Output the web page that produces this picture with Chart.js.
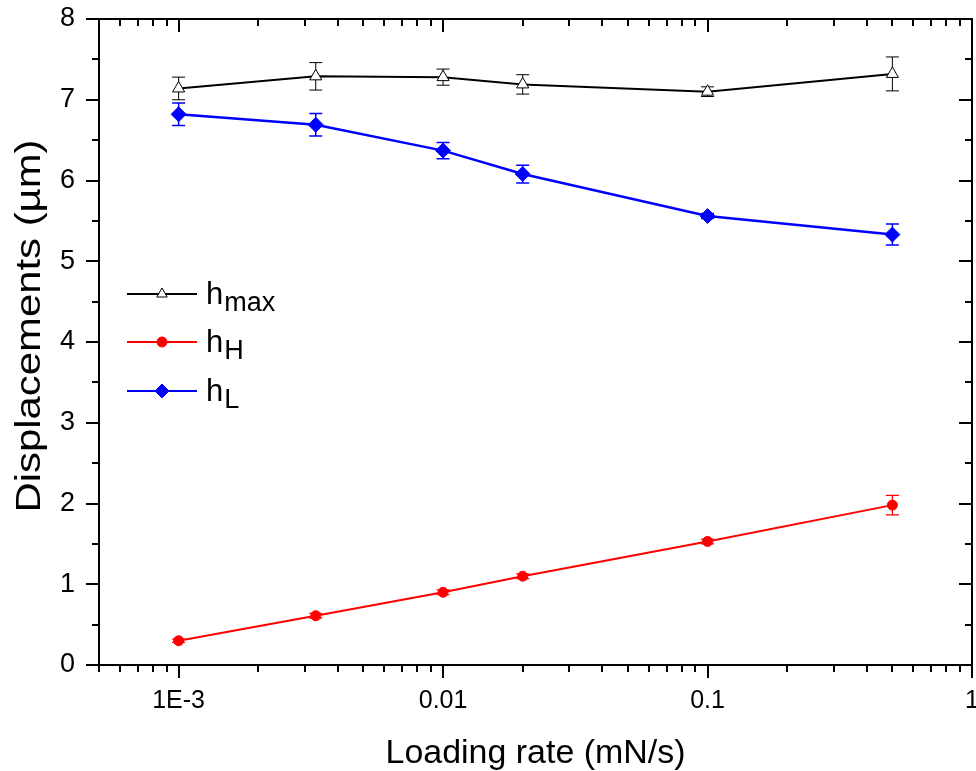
<!DOCTYPE html>
<html>
<head>
<meta charset="utf-8">
<script src="https://cdn.jsdelivr.net/npm/chart.js@4/dist/chart.umd.min.js"></script>
<style>
  html, body { margin: 0; padding: 0; background: #fff; }
  #wrap { width: 976px; height: 771px; }
</style>
</head>
<body>
<div id="wrap"><canvas id="myChart" width="976" height="771"></canvas></div>
<script>
// loading rates (mN/s)
var rates = [0.001, 0.0033, 0.01, 0.02, 0.1, 0.5];
// h_max
var hMax = [7.14, 7.29, 7.28, 7.19, 7.10, 7.32];
var hMaxErr = [0.14, 0.17, 0.10, 0.12, 0.06, 0.21];
// h_H
var hH = [0.30, 0.61, 0.90, 1.10, 1.53, 1.98];
var hHErr = [0.02, 0.03, 0.03, 0.03, 0.03, 0.12];
// h_L
var hL = [6.82, 6.69, 6.37, 6.08, 5.56, 5.33];
var hLErr = [0.14, 0.14, 0.10, 0.11, 0.03, 0.13];

var xTicks = [0.001, 0.01, 0.1, 1];
var xTickLabels = ['1E-3', '0.01', '0.1', '1'];

function pts(ys, errs) {
  return rates.map(function (r, i) { return { x: r, y: ys[i], err: errs[i] }; });
}

var FONT = 'Arial, "Liberation Sans", sans-serif';

// error bars
var errorBars = {
  id: 'errorBars',
  beforeDatasetsDraw: function (chart) {
    var ctx = chart.ctx;
    var xs = chart.scales.x, ys = chart.scales.y;
    chart.data.datasets.forEach(function (ds) {
      ctx.save();
      ctx.strokeStyle = ds.borderColor;
      ctx.lineWidth = ds.errWidth || 1;
      ds.data.forEach(function (p) {
        var px = xs.getPixelForValue(p.x);
        var top = ys.getPixelForValue(p.y + p.err);
        var bot = ys.getPixelForValue(p.y - p.err);
        ctx.beginPath();
        ctx.moveTo(px, top); ctx.lineTo(px, bot);
        ctx.moveTo(px - 6.5, top); ctx.lineTo(px + 6.5, top);
        ctx.moveTo(px - 6.5, bot); ctx.lineTo(px + 6.5, bot);
        ctx.stroke();
      });
      ctx.restore();
    });
  }
};

// frame + origin-style ticks (outside on left/bottom, inside on top/right) + axis titles
var frame = {
  id: 'frame',
  afterDraw: function (chart) {
    var ctx = chart.ctx, a = chart.chartArea;
    var xs = chart.scales.x, ys = chart.scales.y;
    ctx.save();
    ctx.strokeStyle = '#000';
    ctx.lineWidth = 2;
    ctx.strokeRect(a.left, a.top, a.right - a.left, a.bottom - a.top);
    ctx.beginPath();
    for (var e = -4; e <= 0; e++) {
      for (var m = 1; m <= 9; m++) {
        var v = m * Math.pow(10, e);
        if (v < xs.min - 1e-12 || v > xs.max + 1e-12) continue;
        var px = Math.round(xs.getPixelForValue(v));
        var len = m === 1 ? 13 : 7;
        ctx.moveTo(px, a.bottom); ctx.lineTo(px, a.bottom + len);
        ctx.moveTo(px, a.top); ctx.lineTo(px, a.top + len);
      }
    }
    for (var k = 0; k <= 16; k++) {
      var yv = k / 2;
      var py = Math.round(ys.getPixelForValue(yv));
      var l = k % 2 === 0 ? 13 : 7;
      ctx.moveTo(a.left, py); ctx.lineTo(a.left - l, py);
      ctx.moveTo(a.right, py); ctx.lineTo(a.right - l, py);
    }
    ctx.stroke();

    // axis titles
    ctx.fillStyle = '#000';
    ctx.textAlign = 'center';
    ctx.textBaseline = 'alphabetic';
    ctx.font = '33px ' + FONT;
    var xt = 'Loading rate (mN/s)';
    var sx = 300 / ctx.measureText(xt).width;
    ctx.save();
    ctx.translate((a.left + a.right) / 2, 763);
    ctx.scale(sx, 1);
    ctx.fillText(xt, 0, 0);
    ctx.restore();

    ctx.font = '35px ' + FONT;
    var yt = 'Displacements (µm)';
    var sy = 373 / ctx.measureText(yt).width;
    ctx.save();
    ctx.translate(40, 326);
    ctx.rotate(-Math.PI / 2);
    ctx.scale(sy, 1);
    ctx.fillText(yt, 0, 0);
    ctx.restore();
    ctx.restore();
  }
};

// legend with subscripts
var legendItems = [
  { main: 'h', sub: 'max', color: '#000000', style: 'triangle', r: 6, fill: '#ffffff', y: 294 },
  { main: 'h', sub: 'H', color: '#ff0000', style: 'circle', r: 5, fill: '#ff0000', y: 342 },
  { main: 'h', sub: 'L', color: '#0000ff', style: 'rectRot', r: 7, fill: '#0000ff', y: 391 }
];
var subLegend = {
  id: 'subLegend',
  afterDraw: function (chart) {
    var ctx = chart.ctx;
    ctx.save();
    legendItems.forEach(function (it) {
      ctx.strokeStyle = it.color;
      ctx.lineWidth = 2;
      ctx.beginPath();
      ctx.moveTo(127, it.y); ctx.lineTo(197, it.y);
      ctx.stroke();
      ctx.fillStyle = it.fill;
      ctx.lineWidth = 1;
      Chart.helpers.drawPoint(ctx, { pointStyle: it.style, radius: it.r, borderWidth: 1, rotation: 0 }, 162, it.y);
      ctx.fillStyle = '#000';
      ctx.textBaseline = 'alphabetic';
      ctx.textAlign = 'left';
      ctx.font = '31px ' + FONT;
      ctx.fillText(it.main, 206, it.y + 10);
      var w = ctx.measureText(it.main).width;
      ctx.font = '27px ' + FONT;
      ctx.fillText(it.sub, 206 + w + 1, it.y + 17);
    });
    ctx.restore();
  }
};

function noOverhang(scale) {
  scale.paddingLeft = 0;
  scale.paddingRight = 0;
  scale.paddingTop = 0;
  scale.paddingBottom = 0;
}

var ctx = document.getElementById('myChart').getContext('2d');
var myChart = new Chart(ctx, {
  type: 'scatter',
  data: {
    datasets: [{
      label: 'hmax',
      data: pts(hMax, hMaxErr),
      showLine: true,
      borderColor: '#000000',
      backgroundColor: '#ffffff',
      borderWidth: 2,
      pointStyle: 'triangle',
      pointRadius: 7,
      pointBorderWidth: 1,
      errWidth: 1
    }, {
      label: 'hH',
      data: pts(hH, hHErr),
      showLine: true,
      borderColor: '#ff0000',
      backgroundColor: '#ff0000',
      pointBackgroundColor: '#ff0000',
      borderWidth: 2,
      pointStyle: 'circle',
      pointRadius: 5,
      pointBorderWidth: 1,
      errWidth: 1.2
    }, {
      label: 'hL',
      data: pts(hL, hLErr),
      showLine: true,
      borderColor: '#0000ff',
      backgroundColor: '#0000ff',
      pointBackgroundColor: '#0000ff',
      borderWidth: 2.5,
      pointStyle: 'rectRot',
      pointRadius: 7.5,
      pointBorderWidth: 1,
      errWidth: 1.5
    }]
  },
  options: {
    responsive: false,
    animation: false,
    layout: { autoPadding: false, padding: { left: 0, right: 4, top: 19, bottom: 0 } },
    plugins: { legend: { display: false }, tooltip: { enabled: false } },
    scales: {
      x: {
        type: 'logarithmic',
        min: 0.0005,
        max: 1,
        grid: { display: false, drawTicks: false },
        border: { display: false },
        afterBuildTicks: function (scale) {
          scale.ticks = xTicks.map(function (v) { return { value: v }; });
        },
        afterFit: function (scale) { scale.height = 106; noOverhang(scale); },
        ticks: {
          autoSkip: false,
          maxRotation: 0,
          padding: 21,
          color: '#000',
          font: { family: FONT, size: 25 },
          callback: function (v) {
            var i = xTicks.indexOf(v);
            return i >= 0 ? xTickLabels[i] : '';
          }
        }
      },
      y: {
        min: 0,
        max: 8,
        grid: { display: false, drawTicks: false },
        border: { display: false },
        afterFit: function (scale) { scale.width = 99; noOverhang(scale); },
        ticks: {
          stepSize: 1,
          padding: 24,
          color: '#000',
          font: { family: FONT, size: 27 }
        }
      }
    }
  },
  plugins: [errorBars, frame, subLegend]
});
</script>
</body>
</html>
